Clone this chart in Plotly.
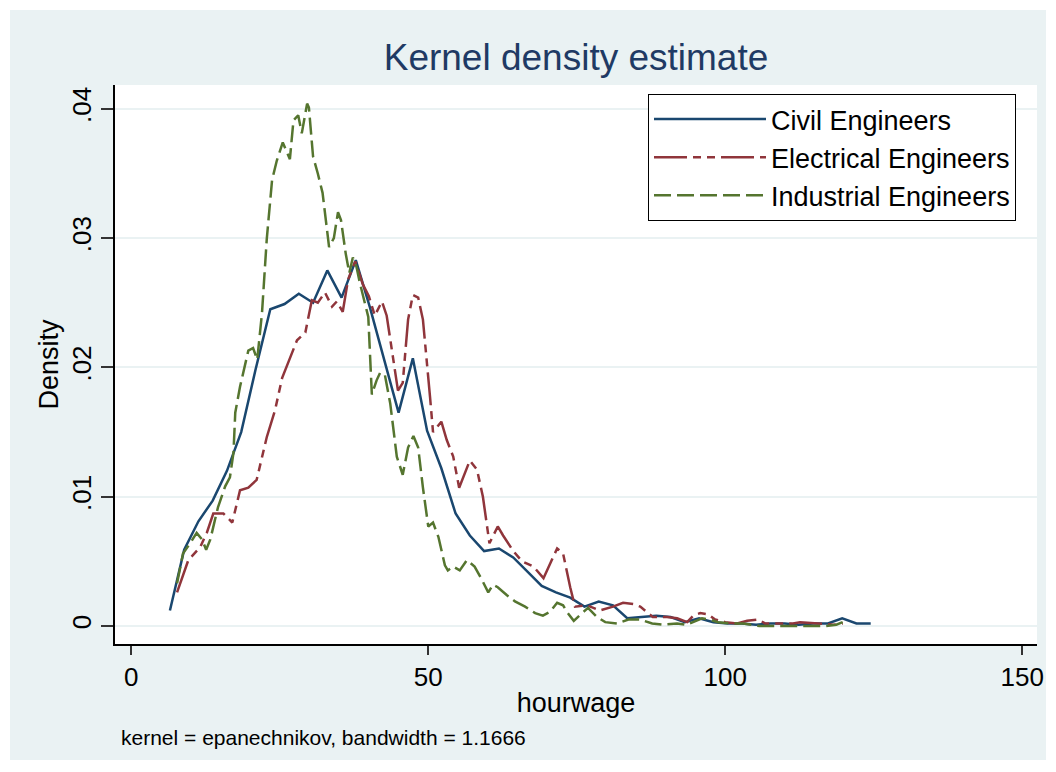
import plotly.graph_objects as go

# ---------------- data ----------------
civil_x = [6.5, 8.9, 11.3, 13.7, 16.1, 18.5, 20.9, 23.4, 25.8, 28.2,
           30.6, 33.0, 35.4, 37.8, 40.2, 42.6, 45.0, 47.4, 49.8, 52.2,
           54.6, 57.0, 59.4, 61.9, 64.3, 66.7, 69.1, 71.5, 73.9, 76.3,
           78.7, 81.1, 83.5, 85.9, 88.4, 90.8, 93.2, 95.6, 98.0, 100.4,
           102.8, 105.2, 107.6, 110.0, 112.4, 114.8, 117.3, 119.7, 122.1, 124.5]
civil_y = [.0012, .0059, .0081, .0097, .0120, .0150, .0198, .0245, .0249, .0257,
           .0250, .0275, .0254, .0283, .0246, .0205, .0165, .0207, .0151, .0122,
           .0087, .0070, .0058, .0060, .0053, .0042, .0031, .0026, .0022, .0015,
           .0019, .0016, .0006, .0007, .0008, .0007, .0003, .0006, .0003, .0002,
           .0002, .0001, .0002, .0002, .0001, .0002, .0002, .0006, .0002, .0002]

elec_x = [7.7, 9.6, 11.6, 12.7, 13.8, 15.5, 17.0, 18.3, 19.7, 21.1,
          22.8, 24.2, 25.4, 27.9, 29.3, 30.4, 31.4, 32.6, 33.8, 34.6,
          35.6, 36.5, 37.7, 39.0, 40.0, 41.0, 42.2, 43.0, 44.9, 45.7,
          46.6, 47.4, 48.3, 49.1, 50.3, 50.8, 52.2, 53.1, 54.2, 55.2,
          57.0, 58.2, 59.2, 60.3, 61.7, 62.6, 64.3, 65.8, 67.7, 69.4,
          71.7, 72.7, 73.9, 74.7, 76.7, 78.9, 81.1, 82.8, 84.5, 85.7,
          87.8, 90.2, 91.9, 93.6, 94.6, 95.8, 97.1, 98.3, 100.0, 102.0,
          103.7, 105.6, 106.7, 109.2, 111.4, 112.6, 114.8, 117.0, 118.2, 119.8]
elec_y = [.0026, .0051, .0061, .0072, .0087, .0087, .0080, .0105, .0107, .0113,
          .0146, .0167, .0192, .0221, .0227, .0252, .0250, .0258, .0247, .0251,
          .0243, .0268, .0282, .0264, .0255, .0240, .0251, .0240, .0182, .0188,
          .0237, .0256, .0254, .0237, .0177, .0150, .0158, .0144, .0131, .0107,
          .0128, .0121, .0100, .0064, .0077, .0070, .0058, .0050, .0046, .0037,
          .0060, .0056, .0030, .0015, .0016, .0012, .0015, .0018, .0017, .0015,
          .0007, .0007, .0006, .0003, .0008, .0010, .0009, .0005, .0003, .0002,
          .0004, .0005, .0002, .0002, .0002, .0003, .0002, .0001, .0001, .0002]

ind_x = [7.7, 8.7, 9.9, 11.0, 11.9, 12.6, 13.3, 14.6, 15.8, 16.6,
         17.2, 17.5, 18.3, 18.8, 19.7, 20.5, 21.2, 22.0, 22.8, 23.7,
         24.5, 25.5, 26.7, 27.3, 28.1, 28.7, 29.1, 29.6, 29.9, 30.6,
         31.4, 32.2, 33.3, 34.1, 34.8, 35.3, 36.1, 36.7, 37.3, 37.9,
         38.5, 39.9, 40.5, 41.3, 41.9, 42.7, 43.6, 44.7, 45.7, 46.6,
         47.5, 48.3, 49.1, 50.0, 50.8, 51.7, 52.8, 53.3, 54.2, 55.3,
         56.5, 57.8, 59.0, 60.1, 60.9, 61.7, 63.2, 64.6, 66.3, 68.0,
         69.3, 70.5, 71.7, 72.7, 73.5, 74.5, 75.9, 76.9, 78.4, 79.8,
         81.8, 83.7, 85.7, 87.7, 89.6, 91.9, 93.5, 94.6, 96.1, 97.4,
         98.8, 100.8, 103.0, 105.8, 108.0, 110.3, 112.5, 114.7, 117.0, 118.7,
         119.8]
ind_y = [.0033, .0056, .0064, .0072, .0067, .0059, .0067, .0092, .0108, .0115,
         .0134, .0165, .0185, .0196, .0213, .0215, .0206, .0242, .0299, .0345,
         .0360, .0374, .0361, .0391, .0395, .0381, .0391, .0404, .0401, .0363,
         .0350, .0335, .0293, .0300, .0320, .0314, .0288, .0273, .0285, .0278,
         .0265, .0239, .0179, .0190, .0196, .0194, .0172, .0131, .0117, .0138,
         .0147, .0138, .0107, .0077, .0080, .0069, .0047, .0043, .0046, .0043,
         .0051, .0046, .0036, .0026, .0032, .0030, .0024, .0019, .0015, .0010,
         .0008, .0011, .0018, .0016, .0010, .0004, .0010, .0014, .0007, .0003,
         .0002, .0005, .0005, .0002, .0001, .0002, .0001, .0003, .0006, .0005,
         .0003, .0002, .0002, .0000, .0000, .0000, .0000, .0000, .0000, .0001,
         .0003]

series_names = ["Civil Engineers", "Electrical Engineers", "Industrial Engineers"]
x_ticks = [0, 50, 100, 150]
x_ticklabels = ["0", "50", "100", "150"]
y_ticks = [0, 0.01, 0.02, 0.03, 0.04]
y_ticklabels = ["0", ".01", ".02", ".03", ".04"]

# ---------------- styling ----------------
FONT = "Liberation Sans, Arial, sans-serif"
NAVY = "#1a476f"
MAROON = "#90353b"
GREEN = "#55752f"
FRAME = "#eaf2f3"

fig = go.Figure()
fig.add_trace(go.Scatter(x=civil_x, y=civil_y, mode="lines", name=series_names[0],
                         legendgroup="a", line=dict(color=NAVY, width=2.5)))
fig.add_trace(go.Scatter(x=elec_x, y=elec_y, mode="lines", name=series_names[1],
                         legendgroup="b",
                         line=dict(color=MAROON, width=2.5, dash="33px,6px,8px,6px,8px,6px")))
fig.add_trace(go.Scatter(x=ind_x, y=ind_y, mode="lines", name=series_names[2],
                         legendgroup="c",
                         line=dict(color=GREEN, width=2.5, dash="17px,6px")))

L, R, T, B = 115, 19, 85, 128
W, H = 1056, 772
pw, ph = W - L - R, H - T - B


def px2paper_x(px):
    return (px - L) / pw


def px2paper_y(py):
    return (H - B - py) / ph


fig.update_layout(
    width=W, height=H,
    margin=dict(l=L, r=R, t=T, b=B, pad=0),
    paper_bgcolor="white",
    plot_bgcolor="white",
    font=dict(family=FONT, color="black", size=26),
    title=dict(text="Kernel density estimate", x=0.5, xref="paper",
               y=1 - 57 / H, yref="container", yanchor="middle", xanchor="center",
               font=dict(family=FONT, size=37, color="#1f3a64")),
    showlegend=True,
    legend=dict(x=px2paper_x(648), y=px2paper_y(94), xanchor="left", yanchor="top",
                bordercolor="black", borderwidth=1, bgcolor="white",
                font=dict(family=FONT, size=27, color="black"),
                tracegroupgap=5, itemwidth=112, traceorder="normal",
                entrywidth=292, entrywidthmode="pixels"),
    shapes=[dict(type="rect", xref="paper", yref="paper", layer="below",
                 x0=px2paper_x(10), x1=px2paper_x(1046),
                 y0=px2paper_y(760), y1=px2paper_y(10),
                 fillcolor=FRAME, line=dict(width=0)),
            dict(type="rect", xref="paper", yref="paper", layer="below",
                 x0=0, x1=1, y0=0, y1=1,
                 fillcolor="white", line=dict(width=0))],
    annotations=[dict(text="kernel = epanechnikov, bandwidth = 1.1666",
                      xref="paper", yref="paper", x=px2paper_x(119), y=px2paper_y(737),
                      xanchor="left", yanchor="middle", showarrow=False,
                      font=dict(family=FONT, size=21, color="black"))],
)

fig.update_xaxes(range=[-2.75, 152.5], tickvals=x_ticks, ticktext=x_ticklabels,
                 showgrid=False, zeroline=False, showline=True, linecolor="black",
                 linewidth=1.5, ticks="outside", ticklen=9, tickwidth=1.5,
                 tickcolor="#333333", tickfont=dict(size=26),
                 title=dict(text="hourwage", standoff=2, font=dict(size=27)))
fig.update_yaxes(range=[-0.00139, 0.04184], tickvals=y_ticks, ticktext=y_ticklabels,
                 tickangle=-90, showgrid=True, gridcolor=FRAME, gridwidth=2,
                 zeroline=False, showline=True, linecolor="black", linewidth=1.5,
                 ticks="outside", ticklen=12, tickwidth=1.5, tickcolor="#333333",
                 tickfont=dict(size=26),
                 title=dict(text="Density", standoff=0, font=dict(size=27)))

fig.write_html("out.html")
